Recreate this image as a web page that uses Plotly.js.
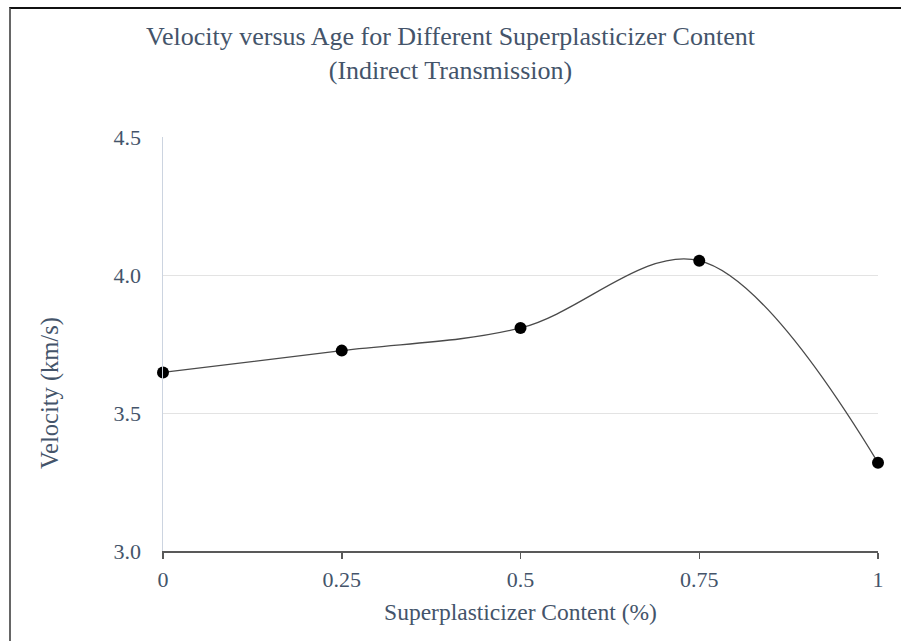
<!DOCTYPE html>
<html>
<head>
<meta charset="utf-8">
<script src="https://cdn.plot.ly/plotly-3.0.1.min.js"></script>
<style>
  html, body { margin: 0; padding: 0; background: #fff; }
  #frame { position: absolute; left: 9px; top: 7px; width: 892px; height: 634px;
           border-left: 2px solid #666; border-top: 2px solid #111; box-sizing: border-box; }
  #chart { position: absolute; left: 0; top: 0; width: 901px; height: 641px; }
</style>
</head>
<body>
<div id="chart"></div>
<div id="frame"></div>
<script>
const content = [0, 0.25, 0.5, 0.75, 1];
const velocity = [3.647, 3.726, 3.808, 4.052, 3.320];
const xTickVals = [0, 0.25, 0.5, 0.75, 1];
const xTickText = ["0", "0.25", "0.5", "0.75", "1"];
const yTickVals = [3.0, 3.5, 4.0, 4.5];
const yTickText = ["3.0", "3.5", "4.0", "4.5"];
const yTitleText = "Velocity (km/s)";

const textColor = "#44546A";
const fontFam = '"Liberation Serif", "Times New Roman", serif';

const trace = {
  x: content,
  y: velocity,
  type: "scatter",
  mode: "lines+markers",
  line: { shape: "spline", smoothing: 1, color: "#4a4a4a", width: 1.3 },
  marker: { color: "#000", size: 12 },
  cliponaxis: false,
  hoverinfo: "skip"
};

const layout = {
  width: 901, height: 641,
  margin: { l: 163, r: 23, t: 137, b: 90 },
  paper_bgcolor: "#fff", plot_bgcolor: "#fff",
  showlegend: false,
  font: { family: fontFam, color: textColor, size: 22 },
  title: {
    text: "Velocity versus Age for Different Superplasticizer Content<br>(Indirect Transmission)",
    font: { family: fontFam, size: 26, color: textColor },
    x: 0.5, xanchor: "center", yref: "container", y: 0.93, yanchor: "top"
  },
  xaxis: {
    range: [0, 1],
    tickvals: xTickVals, ticktext: xTickText,
    showgrid: false, zeroline: false,
    showline: true, linecolor: "#595959", linewidth: 1.5,
    ticks: "outside", ticklen: 6, tickcolor: "#595959", tickwidth: 1.5,
    ticklabelstandoff: 2,
    tickfont: { family: fontFam, size: 22, color: textColor },
    title: { text: "Superplasticizer Content (%)", font: { family: fontFam, size: 23.5, color: textColor }, standoff: 12 }
  },
  yaxis: {
    range: [3.0, 4.5],
    tickvals: yTickVals, ticktext: yTickText,
    showgrid: true, gridcolor: "#e3e3e3", gridwidth: 1,
    zeroline: false,
    showline: true, linecolor: "#ccd4e0", linewidth: 1.5,
    ticks: "",
    ticklabelstandoff: 16,
    tickfont: { family: fontFam, size: 22, color: textColor }
  },
  annotations: [{
    text: yTitleText,
    xref: "paper", yref: "paper",
    x: -0.158, y: 0.382,
    xanchor: "center", yanchor: "middle",
    textangle: -90, showarrow: false,
    font: { family: fontFam, size: 24.5, color: textColor }
  }]
};

Plotly.newPlot("chart", [trace], layout, { staticPlot: true, displayModeBar: false });
</script>
</body>
</html>
